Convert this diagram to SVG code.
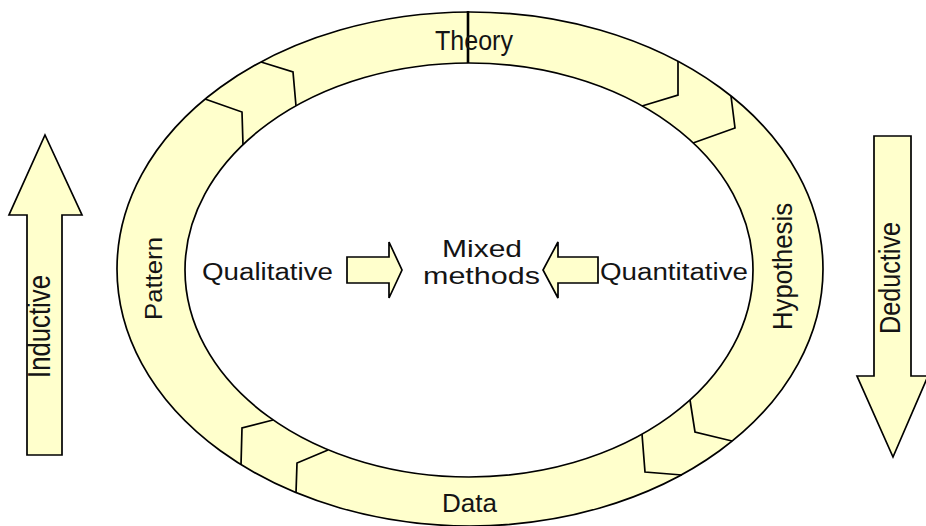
<svg xmlns="http://www.w3.org/2000/svg" width="926" height="526" viewBox="0 0 926 526">
  <style>
    .shape { fill: #FFFFCC; stroke: #000; stroke-width: 1.7; stroke-linejoin: miter; }
    .div { fill: none; stroke: #000; stroke-width: 1.7; }
    .lbl { font-family: "Liberation Sans", Arial, sans-serif; fill: #141414; }
  </style>
  <rect width="926" height="526" fill="#fff"/>

  <g id="cycle">
    <path class="shape" fill-rule="evenodd" d="M117,269 A353,257 0 1 0 823,269 A353,257 0 1 0 117,269 Z M185,270 A284,207 0 1 0 753,270 A284,207 0 1 0 185,270 Z"/>
    <line x1="468" y1="11" x2="468" y2="63" stroke="#000" stroke-width="2.6"/>
    <polyline class="div" points="205,99 242,112 243,145"/>
    <polyline class="div" points="261,62 293,72 296,106"/>
    <polyline class="div" points="678,61 678,95 642,106"/>
    <polyline class="div" points="731,96 735,128 693,143"/>
    <polyline class="div" points="273,420 242,428 241,465"/>
    <polyline class="div" points="328,450 297,463 296,493"/>
    <polyline class="div" points="642,434 645,472 682,475"/>
    <polyline class="div" points="690,400 695,432 732,441"/>
  </g>

  <g id="node-theory">
    <text class="lbl" x="474" y="50" font-size="27" text-anchor="middle" textLength="78" lengthAdjust="spacingAndGlyphs">Theory</text>
  </g>
  <g id="node-hypothesis">
    <text class="lbl" transform="translate(792,266.5) rotate(-90)" x="0" y="0" font-size="28" text-anchor="middle" textLength="127" lengthAdjust="spacingAndGlyphs">Hypothesis</text>
  </g>
  <g id="node-data">
    <text class="lbl" x="469.5" y="512" font-size="25" text-anchor="middle" textLength="55" lengthAdjust="spacingAndGlyphs">Data</text>
  </g>
  <g id="node-pattern">
    <text class="lbl" transform="translate(162,278.5) rotate(-90)" x="0" y="0" font-size="23" text-anchor="middle" textLength="83" lengthAdjust="spacingAndGlyphs">Pattern</text>
  </g>

  <g id="node-inductive">
    <polygon class="shape" points="45,135 82,215 62,215 62,455 27,455 27,215 9,215"/>
    <text class="lbl" transform="translate(50,326.5) rotate(-90)" x="0" y="0" font-size="31" text-anchor="middle" textLength="103" lengthAdjust="spacingAndGlyphs">Inductive</text>
  </g>
  <g id="node-deductive">
    <polygon class="shape" points="874,136 911,136 911,376 928,376 893,457 857,376 874,376"/>
    <text class="lbl" transform="translate(900,278) rotate(-90)" x="0" y="0" font-size="30" text-anchor="middle" textLength="112" lengthAdjust="spacingAndGlyphs">Deductive</text>
  </g>

  <g id="node-qualitative">
    <text class="lbl" x="202" y="280" font-size="23" textLength="131" lengthAdjust="spacingAndGlyphs">Qualitative</text>
  </g>
  <g id="node-mixed">
    <text class="lbl" x="482" y="257" font-size="24" text-anchor="middle" textLength="80" lengthAdjust="spacingAndGlyphs">Mixed</text>
    <text class="lbl" x="481.5" y="284" font-size="24" text-anchor="middle" textLength="117" lengthAdjust="spacingAndGlyphs">methods</text>
  </g>
  <g id="node-quantitative">
    <text class="lbl" x="600" y="280" font-size="23" textLength="148" lengthAdjust="spacingAndGlyphs">Quantitative</text>
  </g>

  <g id="connectors">
    <polygon class="shape" points="347,257 389,257 389,242 402,270 389,298 389,283 347,283"/>
    <polygon class="shape" points="598,257 558,257 558,242 543,270 558,298 558,283 598,283"/>
  </g>
</svg>
